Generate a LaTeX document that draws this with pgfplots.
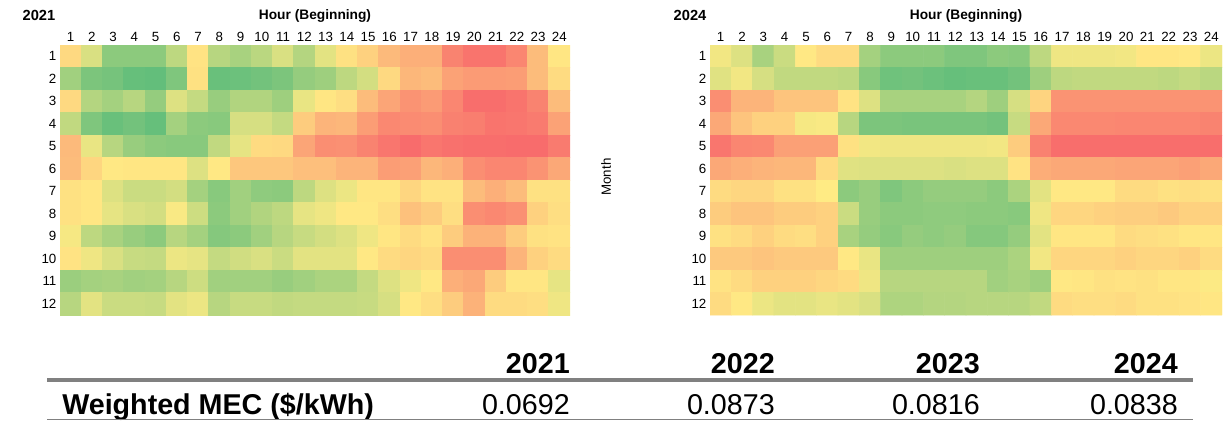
\documentclass[border=0pt]{standalone}
\usepackage{pgfplots}
\pgfplotsset{compat=1.18}
\usepackage{fontspec}
\setmainfont{Liberation Sans}
\definecolor{rulegray}{RGB}{128,128,128}

\pgfplotsset{
  heat/.style={
    anchor=north west,
    scale only axis, width=382.5pt, height=202.5pt,
    xmin=0.5, xmax=24.5, ymin=0.5, ymax=12.5, y dir=reverse,
    xtick={1,...,24}, ytick={1,...,12},
    xticklabel pos=right,
    axis line style={draw=none},
    major tick length=0pt,
    tick label style={font=\fontsize{10}{12}\selectfont, inner sep=0pt},
    xticklabel shift=2.5pt, yticklabel shift=2.5pt,
    /pgf/number format/assume math mode=true,
    colormap={mec}{rgb255=(99,190,123) rgb255=(255,235,132) rgb255=(248,105,107)},
    point meta min=0, point meta max=100,
  },
  heatplot/.style={matrix plot*, mesh/cols=24, mesh/rows=12, point meta=explicit},
}

\begin{document}
\begin{tikzpicture}
\begin{scope}[x=0.75pt,y=-0.75pt]
\path[use as bounding box] (0,0) rectangle (1229,420);
\end{scope}

% ---------------- 2021 ----------------
\begin{axis}[heat, at={(45pt,-33.75pt)}]
\addplot[heatplot] table[row sep=\\, x expr={\coordindex+1-24*floor((\coordindex+0.5)/24)}, y expr={floor((\coordindex+0.5)/24)+1}, meta=v] {
v\\
57\\ 38\\ 13\\ 13\\ 13\\ 29\\ 53\\ 27\\ 22\\ 28\\ 38\\ 26\\ 41\\ 54\\ 60\\ 69\\ 73\\ 73\\ 90\\ 96\\ 96\\ 89\\ 68\\ 52\\
20\\ 8\\ 6\\ 1\\ 0\\ 9\\ 54\\ 2\\ 3\\ 5\\ 8\\ 16\\ 19\\ 29\\ 36\\ 57\\ 70\\ 68\\ 78\\ 81\\ 81\\ 80\\ 68\\ 56\\
57\\ 26\\ 21\\ 27\\ 16\\ 39\\ 31\\ 17\\ 25\\ 25\\ 19\\ 43\\ 52\\ 55\\ 68\\ 77\\ 84\\ 81\\ 89\\ 98\\ 98\\ 96\\ 90\\ 68\\
30\\ 9\\ 2\\ 5\\ 1\\ 21\\ 13\\ 12\\ 37\\ 37\\ 31\\ 62\\ 71\\ 70\\ 80\\ 88\\ 87\\ 86\\ 91\\ 92\\ 96\\ 95\\ 93\\ 78\\
69\\ 43\\ 27\\ 17\\ 13\\ 12\\ 12\\ 30\\ 42\\ 56\\ 57\\ 77\\ 86\\ 85\\ 90\\ 95\\ 99\\ 95\\ 97\\ 98\\ 98\\ 99\\ 99\\ 93\\
68\\ 58\\ 51\\ 52\\ 52\\ 52\\ 39\\ 51\\ 64\\ 64\\ 64\\ 67\\ 67\\ 71\\ 71\\ 80\\ 79\\ 70\\ 73\\ 86\\ 89\\ 89\\ 84\\ 76\\
54\\ 52\\ 39\\ 33\\ 33\\ 36\\ 21\\ 12\\ 20\\ 14\\ 13\\ 29\\ 39\\ 44\\ 52\\ 52\\ 58\\ 53\\ 53\\ 68\\ 73\\ 68\\ 54\\ 54\\
54\\ 52\\ 42\\ 38\\ 36\\ 48\\ 34\\ 13\\ 20\\ 25\\ 29\\ 42\\ 45\\ 51\\ 51\\ 55\\ 66\\ 62\\ 55\\ 86\\ 88\\ 85\\ 60\\ 55\\
47\\ 29\\ 22\\ 17\\ 13\\ 27\\ 21\\ 11\\ 13\\ 20\\ 27\\ 32\\ 36\\ 39\\ 45\\ 52\\ 56\\ 53\\ 62\\ 72\\ 72\\ 62\\ 54\\ 53\\
53\\ 45\\ 38\\ 32\\ 31\\ 44\\ 42\\ 31\\ 35\\ 38\\ 33\\ 41\\ 41\\ 41\\ 51\\ 56\\ 58\\ 56\\ 86\\ 86\\ 86\\ 71\\ 60\\ 56\\
18\\ 21\\ 22\\ 20\\ 21\\ 27\\ 34\\ 20\\ 20\\ 20\\ 17\\ 20\\ 23\\ 23\\ 31\\ 39\\ 45\\ 51\\ 73\\ 76\\ 62\\ 52\\ 52\\ 42\\
27\\ 41\\ 33\\ 33\\ 32\\ 41\\ 44\\ 27\\ 32\\ 32\\ 30\\ 31\\ 31\\ 31\\ 32\\ 37\\ 51\\ 55\\ 62\\ 72\\ 56\\ 56\\ 55\\ 45\\
};
\end{axis}

% ---------------- 2024 ----------------
\begin{axis}[heat, at={(532.5pt,-33.75pt)}, width=384pt]
\addplot[heatplot] table[row sep=\\, x expr={\coordindex+1-24*floor((\coordindex+0.5)/24)}, y expr={floor((\coordindex+0.5)/24)+1}, meta=v] {
v\\
46\\ 39\\ 22\\ 33\\ 51\\ 56\\ 56\\ 21\\ 13\\ 13\\ 13\\ 9\\ 9\\ 13\\ 12\\ 29\\ 45\\ 45\\ 45\\ 46\\ 52\\ 52\\ 51\\ 44\\
40\\ 46\\ 37\\ 30\\ 30\\ 30\\ 29\\ 12\\ 4\\ 5\\ 3\\ 1\\ 2\\ 2\\ 5\\ 19\\ 29\\ 30\\ 30\\ 30\\ 30\\ 29\\ 31\\ 28\\
86\\ 71\\ 71\\ 65\\ 65\\ 65\\ 53\\ 39\\ 22\\ 22\\ 22\\ 22\\ 26\\ 19\\ 37\\ 59\\ 84\\ 84\\ 84\\ 84\\ 84\\ 84\\ 84\\ 84\\
76\\ 65\\ 60\\ 60\\ 47\\ 48\\ 27\\ 8\\ 8\\ 7\\ 7\\ 7\\ 7\\ 5\\ 32\\ 76\\ 88\\ 88\\ 88\\ 89\\ 89\\ 89\\ 89\\ 90\\
95\\ 89\\ 88\\ 79\\ 79\\ 79\\ 54\\ 46\\ 45\\ 45\\ 45\\ 45\\ 45\\ 46\\ 62\\ 91\\ 98\\ 98\\ 98\\ 98\\ 98\\ 98\\ 98\\ 98\\
76\\ 73\\ 71\\ 70\\ 70\\ 56\\ 40\\ 39\\ 39\\ 39\\ 39\\ 38\\ 39\\ 39\\ 53\\ 74\\ 76\\ 76\\ 76\\ 77\\ 77\\ 77\\ 79\\ 76\\
56\\ 58\\ 58\\ 54\\ 54\\ 50\\ 13\\ 17\\ 9\\ 13\\ 16\\ 16\\ 16\\ 13\\ 23\\ 41\\ 51\\ 51\\ 51\\ 56\\ 56\\ 54\\ 55\\ 54\\
62\\ 65\\ 65\\ 62\\ 62\\ 60\\ 33\\ 17\\ 13\\ 13\\ 14\\ 14\\ 13\\ 13\\ 12\\ 45\\ 58\\ 58\\ 60\\ 61\\ 61\\ 63\\ 60\\ 60\\
54\\ 56\\ 60\\ 56\\ 55\\ 60\\ 22\\ 16\\ 12\\ 16\\ 14\\ 16\\ 11\\ 11\\ 16\\ 41\\ 52\\ 52\\ 52\\ 56\\ 55\\ 54\\ 52\\ 52\\
63\\ 63\\ 65\\ 63\\ 63\\ 63\\ 51\\ 43\\ 19\\ 19\\ 19\\ 19\\ 19\\ 19\\ 23\\ 46\\ 58\\ 58\\ 58\\ 60\\ 58\\ 58\\ 60\\ 56\\
53\\ 56\\ 60\\ 60\\ 60\\ 58\\ 56\\ 45\\ 27\\ 27\\ 27\\ 27\\ 27\\ 20\\ 22\\ 19\\ 51\\ 52\\ 54\\ 53\\ 54\\ 52\\ 52\\ 49\\
56\\ 51\\ 44\\ 41\\ 41\\ 43\\ 41\\ 38\\ 24\\ 24\\ 26\\ 26\\ 27\\ 27\\ 27\\ 30\\ 56\\ 55\\ 55\\ 56\\ 54\\ 54\\ 53\\ 52\\
};
\end{axis}

\begin{scope}[x=0.75pt,y=-0.75pt]
\node[font=\bfseries\fontsize{11}{13}\selectfont] at (39,15) {2021};
\node[font=\bfseries\fontsize{10.3}{12}\selectfont] at (315,16) {Hour (Beginning)};
\node[font=\bfseries\fontsize{11}{13}\selectfont] at (690,15) {2024};
\node[font=\bfseries\fontsize{10.3}{12}\selectfont] at (966,16) {Hour (Beginning)};
\node[rotate=90, font=\fontsize{10}{12}\selectfont] at (606,177) {Month};

\foreach \xx/\yy in {570/2021, 775/2022, 980/2023, 1178/2024}
  \node[anchor=base east, inner sep=0pt, font=\bfseries\fontsize{21.5}{24}\selectfont] at (\xx,373) {\yy};
\draw[line width=3pt, rulegray] (47,380) -- (1193,380);
\node[anchor=base west, inner sep=0pt, font=\bfseries\fontsize{21.5}{24}\selectfont] at (62,414) {Weighted MEC (\$/kWh)};
\foreach \xx/\vv in {570/0.0692, 775/0.0873, 980/0.0816, 1178/0.0838}
  \node[anchor=base east, inner sep=0pt, font=\fontsize{21.5}{24}\selectfont] at (\xx,414) {\vv};
\draw[line width=0.75pt, rulegray] (47,419.3) -- (1193,419.3);
\end{scope}
\end{tikzpicture}
\end{document}
